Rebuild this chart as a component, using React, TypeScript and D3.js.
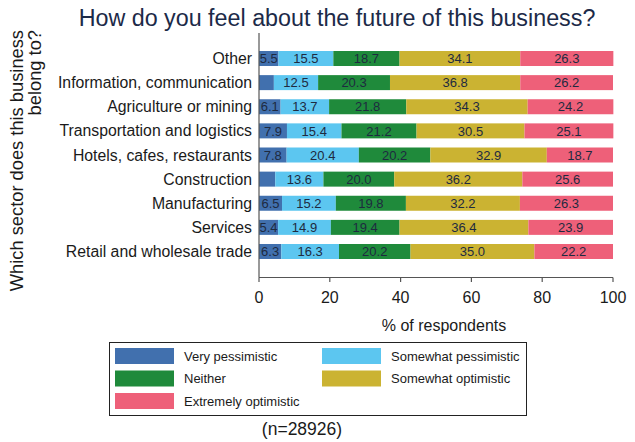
import React from "react";
import * as d3 from "d3";

const categories = [
  "Other",
  "Information, communication",
  "Agriculture or mining",
  "Transportation and logistics",
  "Hotels, cafes, restaurants",
  "Construction",
  "Manufacturing",
  "Services",
  "Retail and wholesale trade",
];
const seriesNames = [
  "Very pessimistic",
  "Somewhat pessimistic",
  "Neither",
  "Somewhat optimistic",
  "Extremely optimistic",
];
const veryPessimistic = [5.5, 4.2, 6.1, 7.9, 7.8, 4.6, 6.5, 5.4, 6.3];
const somewhatPessimistic = [15.5, 12.5, 13.7, 15.4, 20.4, 13.6, 15.2, 14.9, 16.3];
const neither = [18.7, 20.3, 21.8, 21.2, 20.2, 20.0, 19.8, 19.4, 20.2];
const somewhatOptimistic = [34.1, 36.8, 34.3, 30.5, 32.9, 36.2, 32.2, 36.4, 35.0];
const extremelyOptimistic = [26.3, 26.2, 24.2, 25.1, 18.7, 25.6, 26.3, 23.9, 22.2];
const xTicks = [0, 20, 40, 60, 80, 100];
const colors = ["#4170ae", "#5cc6f0", "#1f8a3b", "#cbb332", "#ee6079"];

const W = 635;
const H = 442;
const FONT = "Liberation Sans, Arial, sans-serif";
const TXT = "#1a1a1a";

export default function App() {
  const series = [veryPessimistic, somewhatPessimistic, neither, somewhatOptimistic, extremelyOptimistic];
  const x = d3.scaleLinear().domain([0, 100]).range([259, 613]);
  const y = d3.scalePoint<string>().domain(categories).range([58.5, 251.5]);
  const barH = 15;

  const rows = categories.map((c, i) => {
    const vals = series.map((s) => s[i]);
    const cum = d3.cumsum(vals);
    return vals.map((v, k) => ({ c, k, v, x0: cum[k] - v, x1: cum[k] }));
  });

  const legendItems = seriesNames.map((n, k) => ({
    n,
    k,
    col: k % 2,
    row: Math.floor(k / 2),
  }));

  return (
    <svg width={W} height={H} style={{ position: "absolute", left: 0, top: 0, background: "#fff" }}>
      <rect x={0} y={0} width={W} height={H} fill="#fff" />
      <text x={337} y={26} textAnchor="middle" fontFamily={FONT} fontSize={23.3} fill="#1c2a48">
        How do you feel about the future of this business?
      </text>

      {/* bars */}
      {rows.map((segs) =>
        segs.map((s) => (
          <g key={s.c + s.k}>
            <rect
              x={x(s.x0)}
              y={(y(s.c) as number) - barH / 2}
              width={x(s.x1) - x(s.x0)}
              height={barH}
              fill={colors[s.k]}
            />
            {s.v >= 5 && (
              <text
                x={(x(s.x0) + x(s.x1)) / 2}
                y={(y(s.c) as number) + 4.7}
                textAnchor="middle"
                fontFamily={FONT}
                fontSize={13}
                fill="#1e2a40"
              >
                {s.v.toFixed(1)}
              </text>
            )}
          </g>
        ))
      )}

      {/* axes */}
      <line x1={259} x2={259} y1={33} y2={277.5} stroke="#555" strokeWidth={1.2} />
      <line x1={259} x2={613} y1={277.5} y2={277.5} stroke="#555" strokeWidth={1.2} />
      {xTicks.map((t) => (
        <g key={t}>
          <line x1={x(t)} x2={x(t)} y1={277.5} y2={282} stroke="#555" strokeWidth={1.2} />
          <text x={x(t)} y={302.5} textAnchor="middle" fontFamily={FONT} fontSize={16} fill={TXT}>
            {t}
          </text>
        </g>
      ))}
      {categories.map((c) => (
        <text
          key={c}
          x={252}
          y={(y(c) as number) + 5.5}
          textAnchor="end"
          fontFamily={FONT}
          fontSize={15.8}
          fill={TXT}
        >
          {c}
        </text>
      ))}
      <text x={444} y={330.5} textAnchor="middle" fontFamily={FONT} fontSize={16} fill={TXT}>
        % of respondents
      </text>
      <g transform="translate(23,30) rotate(-90)">
        <text x={0} y={0} textAnchor="end" fontFamily={FONT} fontSize={18.3} fill={TXT}>
          Which sector does this business
        </text>
        <text x={0} y={18} textAnchor="end" fontFamily={FONT} fontSize={18.3} fill={TXT}>
          belong to?
        </text>
      </g>

      {/* legend */}
      <rect x={109.5} y={342.5} width={417} height={73} fill="#fff" stroke="#222" strokeWidth={1} />
      {legendItems.map((it) => {
        const kx = it.col === 0 ? 115 : 322;
        const cy = 356 + it.row * 22.5;
        return (
          <g key={it.n}>
            <rect x={kx} y={cy - 8} width={59} height={16} fill={colors[it.k]} />
            <text x={kx + 69} y={cy + 4.7} fontFamily={FONT} fontSize={13} fill={TXT}>
              {it.n}
            </text>
          </g>
        );
      })}
      <text x={302} y={435} textAnchor="middle" fontFamily={FONT} fontSize={17.5} fill={TXT}>
        (n=28926)
      </text>
    </svg>
  );
}
